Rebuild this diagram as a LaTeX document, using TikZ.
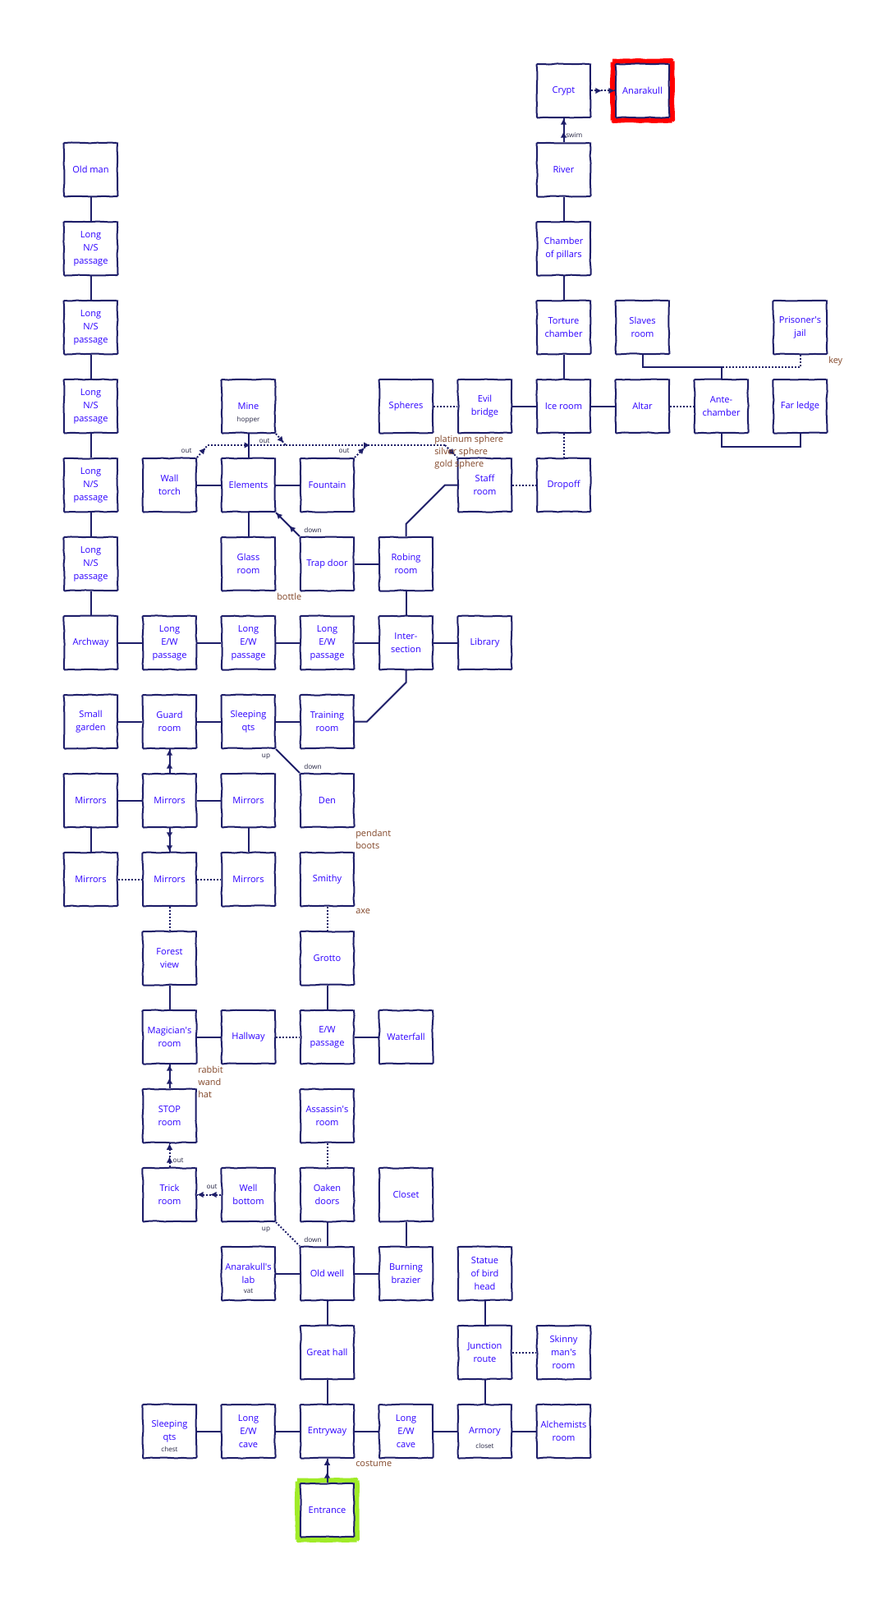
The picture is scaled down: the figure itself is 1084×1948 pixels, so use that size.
\documentclass[tikz,border=0pt]{standalone}
\usepackage{fontspec}
\setmainfont{Open Sans}
\usetikzlibrary{arrows.meta,decorations.pathmorphing,decorations.markings,backgrounds,calc}
\definecolor{navy}{RGB}{30,30,105}
\definecolor{roomtxt}{RGB}{45,0,255}
\definecolor{itemtxt}{RGB}{130,70,40}
\definecolor{lbltxt}{RGB}{40,40,70}
\definecolor{exitred}{RGB}{255,0,0}
\definecolor{startgreen}{RGB}{160,235,40}
\newcommand{\ap}{\textquotesingle}
\begin{document}
\begin{tikzpicture}[x=0.75pt,y=-0.75pt,
  wobble/.style={decorate, decoration={random steps, segment length=6pt, amplitude=0.45pt}, rounded corners=0.8pt},
  room/.style={draw=navy, fill=white, line width=1.5pt, minimum width=48.75pt, minimum height=48.75pt,
    inner sep=0pt, align=center, text=roomtxt, font=\fontsize{8.3}{12}\selectfont, wobble},
  conn/.style={draw=navy, line width=1.5pt},
  dotc/.style={conn, dash pattern=on 1.4pt off 1.6pt},
  tipA/.tip={Latex[length=5.8pt,width=5.8pt]},
  oneway/.style={postaction={decorate, decoration={markings,
      mark=at position 0.45 with {\arrow{tipA}}, mark=at position 1 with {\arrow{tipA}}}}},
  marr/.style={postaction={decorate, decoration={markings, mark=at position #1 with {\arrow{tipA}}}}},
  items/.style={text=itemtxt, font=\fontsize{8.2}{11.25}\selectfont, align=left, inner sep=0pt, anchor=north west},
  lbl/.style={text=lbltxt, font=\fontsize{6.2}{7}\selectfont, inner sep=0pt},
  sub/.style={text=lbltxt, font=\fontsize{6.1}{7}\selectfont, inner sep=0pt},
  frame/.style={line width=4.5pt, wobble}
]
\useasboundingbox (0,0) rectangle (1084,1948);

% ---------------- rooms ----------------
% row 0
\node[room] (crypt) at (686.5,110.5) {Crypt};
\node[room] (anar) at (782.5,110.5) {Anarakull};
% row 1
\node[room] (oldman) at (110.5,206.5) {Old man};
\node[room] (river) at (686.5,206.5) {River};
% row 2
\node[room] (lns1) at (110.5,302.5) {Long\\N/S\\passage};
\node[room] (pillars) at (686.5,302.5) {Chamber\\of pillars};
% row 3
\node[room] (lns2) at (110.5,398.5) {Long\\N/S\\passage};
\node[room] (torture) at (686.5,398.5) {Torture\\chamber};
\node[room] (slaves) at (782.5,398.5) {Slaves\\room};
\node[room] (jail) at (974.5,398.5) {Prisoner\ap s\\jail};
% row 4
\node[room] (lns3) at (110.5,494.5) {Long\\N/S\\passage};
\node[room] (mine) at (302.5,494.5) {Mine};
\node[room] (spheres) at (494.5,494.5) {Spheres};
\node[room] (evil) at (590.5,494.5) {Evil\\bridge};
\node[room] (ice) at (686.5,494.5) {Ice room};
\node[room] (altar) at (782.5,494.5) {Altar};
\node[room] (ante) at (878.5,494.5) {Ante-\\chamber};
\node[room] (ledge) at (974.5,494.5) {Far ledge};
% row 5
\node[room] (lns4) at (110.5,590.5) {Long\\N/S\\passage};
\node[room] (walltorch) at (206.5,590.5) {Wall\\torch};
\node[room] (elements) at (302.5,590.5) {Elements};
\node[room] (fountain) at (398.5,590.5) {Fountain};
\node[room] (staff) at (590.5,590.5) {Staff\\room};
\node[room] (dropoff) at (686.5,590.5) {Dropoff};
% row 6
\node[room] (lns5) at (110.5,686.5) {Long\\N/S\\passage};
\node[room] (glass) at (302.5,686.5) {Glass\\room};
\node[room] (trap) at (398.5,686.5) {Trap door};
\node[room] (robing) at (494.5,686.5) {Robing\\room};
% row 7
\node[room] (archway) at (110.5,782.5) {Archway};
\node[room] (lew1) at (206.5,782.5) {Long\\E/W\\passage};
\node[room] (lew2) at (302.5,782.5) {Long\\E/W\\passage};
\node[room] (lew3) at (398.5,782.5) {Long\\E/W\\passage};
\node[room] (inter) at (494.5,782.5) {Inter-\\section};
\node[room] (library) at (590.5,782.5) {Library};
% row 8
\node[room] (garden) at (110.5,878.5) {Small\\garden};
\node[room] (guard) at (206.5,878.5) {Guard\\room};
\node[room] (sleep1) at (302.5,878.5) {Sleeping\\qts};
\node[room] (training) at (398.5,878.5) {Training\\room};
% row 9
\node[room] (mir11) at (110.5,974.5) {Mirrors};
\node[room] (mir12) at (206.5,974.5) {Mirrors};
\node[room] (mir13) at (302.5,974.5) {Mirrors};
\node[room] (den) at (398.5,974.5) {Den};
% row 10
\node[room] (mir21) at (110.5,1070.5) {Mirrors};
\node[room] (mir22) at (206.5,1070.5) {Mirrors};
\node[room] (mir23) at (302.5,1070.5) {Mirrors};
\node[room] (smithy) at (398.5,1070.5) {Smithy};
% row 11
\node[room] (forest) at (206.5,1166.5) {Forest\\view};
\node[room] (grotto) at (398.5,1166.5) {Grotto};
% row 12
\node[room] (magician) at (206.5,1262.5) {Magician\ap s\\room};
\node[room] (hallway) at (302.5,1262.5) {Hallway};
\node[room] (ewpass) at (398.5,1262.5) {E/W\\passage};
\node[room] (waterfall) at (494.5,1262.5) {Waterfall};
% row 13
\node[room] (stop) at (206.5,1358.5) {STOP\\room};
\node[room] (assassin) at (398.5,1358.5) {Assassin\ap s\\room};
% row 14
\node[room] (trick) at (206.5,1454.5) {Trick\\room};
\node[room] (wellbottom) at (302.5,1454.5) {Well\\bottom};
\node[room] (oaken) at (398.5,1454.5) {Oaken\\doors};
\node[room] (closet) at (494.5,1454.5) {Closet};
% row 15
\node[room] (lab) at (302.5,1550.5) {Anarakull\ap s\\lab};
\node[room] (oldwell) at (398.5,1550.5) {Old well};
\node[room] (brazier) at (494.5,1550.5) {Burning\\brazier};
\node[room] (statue) at (590.5,1550.5) {Statue\\of bird\\head};
% row 16
\node[room] (greathall) at (398.5,1646.5) {Great hall};
\node[room] (junction) at (590.5,1646.5) {Junction\\route};
\node[room] (skinny) at (686.5,1646.5) {Skinny\\man\ap s\\room};
% row 17
\node[room] (sleep2) at (206.5,1742.5) {Sleeping\\qts};
\node[room] (cave1) at (302.5,1742.5) {Long\\E/W\\cave};
\node[room] (entryway) at (398.5,1742.5) {Entryway};
\node[room] (cave2) at (494.5,1742.5) {Long\\E/W\\cave};
\node[room] (armory) at (590.5,1742.5) {Armory};
\node[room] (alch) at (686.5,1742.5) {Alchemists\\room};
% row 18
\node[room] (entrance) at (398.5,1838.5) {Entrance};

% subtitles inside rooms
\node[sub] (minesub) at ($(mine.center)+(0,16.5)$) {hopper};
\node[sub] (labsub) at ($(lab.center)+(0,21.5)$) {vat};
\node[sub] (sleepsub) at ($(sleep2.center)+(0,21.5)$) {chest};
\node[sub] (armsub) at ($(armory.center)+(0,17.5)$) {closet};

% start / goal frames
\begin{scope}[on background layer]
  \fill[white] (0,0) rectangle (1084,1948);
  \draw[frame, exitred] ($(anar.north west)+(-2.5,-2.5)$) rectangle ($(anar.south east)+(2.5,2.5)$);
  \draw[frame, startgreen] ($(entrance.north west)+(-2.5,-2.5)$) rectangle ($(entrance.south east)+(2.5,2.5)$);
\end{scope}

% ---------------- connections ----------------
% west column
\draw[conn] (oldman) -- (lns1);
\draw[conn] (lns1) -- (lns2);
\draw[conn] (lns2) -- (lns3);
\draw[conn] (lns3) -- (lns4);
\draw[conn] (lns4) -- (lns5);
\draw[conn] (lns5) -- (archway);
% row 7
\draw[conn] (archway) -- (lew1);
\draw[conn] (lew1) -- (lew2);
\draw[conn] (lew2) -- (lew3);
\draw[conn] (lew3) -- (inter);
\draw[conn] (inter) -- (library);
\draw[conn] (inter) -- (robing);
\draw[conn] (trap) -- (robing);
\coordinate (rs1) at (494.5,638);
\coordinate (rs2) at (542,590.5);
\draw[conn] (robing.north) -- (rs1) -- (rs2) -- (staff.west);
\coordinate (it1) at (494.5,831);
\coordinate (it2) at (447,878.5);
\draw[conn] (inter.south) -- (it1) -- (it2) -- (training.east);
% elements cluster
\draw[conn] (walltorch) -- (elements);
\draw[conn] (elements) -- (fountain);
\draw[conn] (mine) -- (elements);
\draw[conn] (elements) -- (glass);
\draw[conn, oneway] (trap.north west) -- (elements.south east);
% dotted "out" passages to the staff room
\coordinate (wt1) at (253,542);
\coordinate (mn1) at (348,542);
\coordinate (fn1) at (447,542);
\coordinate (st1) at (542,542);
\draw[dotc, marr=0.8] (walltorch.north east) -- (wt1);
\draw[dotc, marr=0.55] (wt1) -- (mn1);
\draw[dotc, marr=0.8] (mine.south east) -- (mn1);
\draw[dotc, marr=0.53] (mn1) -- (st1);
\draw[dotc, marr=0.8] (fountain.north east) -- (fn1);
\draw[dotc, marr=0.8] (st1) -- (staff.north west);
% north-east area
\draw[dotc] (staff) -- (dropoff);
\draw[dotc] (ice) -- (dropoff);
\draw[dotc] (spheres) -- (evil);
\draw[conn] (evil) -- (ice);
\draw[conn] (ice) -- (altar);
\draw[dotc] (altar) -- (ante);
\coordinate (aj) at (878.5,447);
\draw[conn] (slaves.south) |- (aj) -- (ante.north);
\draw[dotc] (jail.south) |- (aj);
\draw[conn] (ante.south) -- ++(0,15.5) -| (ledge.south);
\draw[conn] (torture) -- (ice);
\draw[conn] (pillars) -- (torture);
\draw[conn] (river) -- (pillars);
\draw[conn, oneway] (river) -- (crypt);
\draw[dotc, oneway] (crypt) -- (anar);
% row 8 and mirrors
\draw[conn] (garden) -- (guard);
\draw[conn] (guard) -- (sleep1);
\draw[conn] (sleep1) -- (training);
\draw[conn] (sleep1.south east) -- (den.north west);
\draw[conn, oneway] (mir12) -- (guard);
\draw[conn] (mir11) -- (mir12);
\draw[conn] (mir12) -- (mir13);
\draw[conn] (mir11) -- (mir21);
\draw[conn] (mir13) -- (mir23);
\draw[conn, oneway] (mir12) -- (mir22);
\draw[dotc] (mir21) -- (mir22);
\draw[dotc] (mir22) -- (mir23);
\draw[dotc] (mir22) -- (forest);
\draw[conn] (forest) -- (magician);
\draw[conn] (magician) -- (hallway);
\draw[dotc] (hallway) -- (ewpass);
\draw[conn] (ewpass) -- (waterfall);
\draw[conn] (grotto) -- (ewpass);
\draw[dotc] (smithy) -- (grotto);
% lower area
\draw[conn, oneway] (stop) -- (magician);
\draw[dotc, oneway] (trick) -- (stop);
\draw[dotc, oneway] (wellbottom) -- (trick);
\draw[dotc] (wellbottom.south east) -- (oldwell.north west);
\draw[dotc] (assassin) -- (oaken);
\draw[conn] (oaken) -- (oldwell);
\draw[conn] (closet) -- (brazier);
\draw[conn] (lab) -- (oldwell);
\draw[conn] (oldwell) -- (brazier);
\draw[conn] (oldwell) -- (greathall);
\draw[conn] (greathall) -- (entryway);
\draw[conn, oneway] (entrance) -- (entryway);
\draw[conn] (sleep2) -- (cave1);
\draw[conn] (cave1) -- (entryway);
\draw[conn] (entryway) -- (cave2);
\draw[conn] (cave2) -- (armory);
\draw[conn] (armory) -- (alch);
\draw[conn] (armory) -- (junction);
\draw[conn] (junction) -- (statue);
\draw[dotc] (junction) -- (skinny);

% ---------------- connection labels ----------------
\node[lbl, anchor=west] (lswim) at (689,165) {swim};
\node[lbl] (lout1) at (227,549) {out};
\node[lbl] (lout2) at (322,537) {out};
\node[lbl] (lout3) at (419,549) {out};
\node[lbl] (ldown1) at (381,645) {down};
\node[lbl] (lup1) at (324,921) {up};
\node[lbl] (ldown2) at (381,933) {down};
\node[lbl] (lout4) at (217,1413) {out};
\node[lbl] (lout5) at (258,1445) {out};
\node[lbl] (lup2) at (324,1497) {up};
\node[lbl] (ldown3) at (381,1509) {down};

% ---------------- objects ----------------
\node[items] (ispheres) at ($(spheres.south east)+(1,2)$) {platinum sphere\\silver sphere\\gold sphere};
\node[items] (iglass) at ($(glass.south east)+(1,2)$) {bottle};
\node[items] (imagician) at ($(magician.south east)+(1,2)$) {rabbit\\wand\\hat};
\node[items] (iden) at ($(den.south east)+(1,2)$) {pendant\\boots};
\node[items] (ismithy) at ($(smithy.south east)+(1,2)$) {axe};
\node[items] (ijail) at ($(jail.south east)+(1,2)$) {key};
\node[items] (ientry) at ($(entryway.south east)+(1,2)$) {costume};
\end{tikzpicture}
\end{document}
